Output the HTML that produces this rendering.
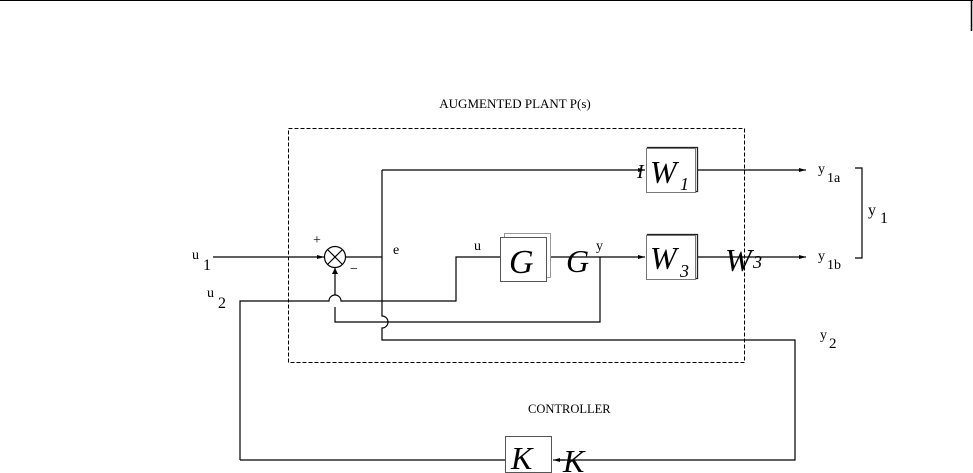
<!DOCTYPE html>
<html><head><style>body{margin:0;background:#fff}svg{display:block}</style></head><body>
<svg width="973" height="473" xmlns="http://www.w3.org/2000/svg" font-family="Liberation Serif, serif">
<defs><marker id="a" markerWidth="8" markerHeight="6" refX="7" refY="3" orient="auto" markerUnits="userSpaceOnUse"><path d="M0,1 L7,3 L0,5z" fill="#000"/></marker></defs>
<line x1="0" y1="0.5" x2="973" y2="0.5" stroke="#000"/>
<line x1="971.5" y1="0" x2="971.5" y2="31" stroke="#000" stroke-width="1.5"/>
<text x="515" y="108" font-size="13" text-anchor="middle">AUGMENTED PLANT P(s)</text>
<rect x="288.5" y="128.5" width="456" height="234" fill="none" stroke="#000" stroke-dasharray="4,2"/>
<g stroke="#000" stroke-width="1.2" fill="none">
<line x1="213" y1="257" x2="324" y2="257" marker-end="url(#a)"/>
<circle cx="335" cy="257" r="10.5"/>
<line x1="328" y1="250" x2="342" y2="264"/><line x1="342" y1="250" x2="328" y2="264"/>
<line x1="345.5" y1="257" x2="382" y2="257"/>
<path d="M382 170 V316 a6 6 0 0 1 0 12 V340 H795 V460 H560"/>
<line x1="382" y1="170" x2="645" y2="170" marker-end="url(#a)"/>
<path d="M240 460 V301 H329 a6 6 0 0 1 12 0 H456 V257 H500" />
<path d="M335 268 V295 M335 307 V322 H600 V257"/>
<line x1="548" y1="257" x2="645" y2="257" marker-end="url(#a)"/>
<line x1="697" y1="170" x2="806" y2="170" marker-end="url(#a)"/>
<line x1="697" y1="257" x2="806" y2="257" marker-end="url(#a)"/>
<path d="M855 168 H862 V258 H855"/>
<line x1="240" y1="460" x2="505" y2="460"/>
<line x1="565" y1="460" x2="553" y2="460" marker-end="url(#a)"/>
</g>
<path d="M335 268 l-3 6 h6z" fill="#000"/>
<g fill="#fff" stroke="#000">
<rect x="502.5" y="235.5" width="46" height="44" stroke="#999" transform="translate(2,-2)"/>
<rect x="500.5" y="237.5" width="46" height="44" stroke="#555"/>
<rect x="647.5" y="147.5" width="50" height="44" stroke="#222" stroke-width="1.3"/>
<rect x="646.5" y="148.5" width="49" height="44" stroke="#777"/>
<rect x="647.5" y="234.5" width="50" height="44" stroke="#222" stroke-width="1.3"/>
<rect x="646.5" y="235.5" width="49" height="44" stroke="#777"/>
<rect x="505.5" y="436.5" width="46" height="36" stroke="#555"/>
</g>
<g font-style="italic">
<text x="509" y="273" font-size="34">G</text>
<text x="650" y="183" font-size="32">W</text><text x="680" y="190" font-size="18">1</text>
<text x="650" y="269" font-size="32">W</text><text x="680" y="277" font-size="18">3</text>
<text x="511" y="469" font-size="32">K</text>
<text x="566" y="272" font-size="32">G</text>
<text x="725" y="271" font-size="32">W</text><text x="753" y="268" font-size="18">3</text>
<text x="563" y="472" font-size="32">K</text>
<text x="637" y="178" font-size="20">I</text>
</g>
<g font-size="14">
<text x="192" y="259">u</text><text x="203" y="270" font-size="16">1</text>
<text x="207" y="297">u</text><text x="218" y="308" font-size="16">2</text>
<text x="313" y="244" font-size="14">+</text><text x="350" y="273" font-size="14">−</text>
<text x="393" y="254">e</text><text x="474" y="250">u</text>
<text x="596" y="250">y</text>
<text x="818" y="173">y</text><text x="827" y="182" font-size="14">1a</text>
<text x="818" y="260">y</text><text x="827" y="269" font-size="14">1b</text>
<text x="868" y="215" font-size="16">y</text><text x="880" y="223" font-size="16">1</text>
<text x="820" y="339">y</text><text x="829" y="348" font-size="15">2</text>
<text x="528" y="413" font-size="12.5">CONTROLLER</text>
</g>
</svg>
</body></html>
